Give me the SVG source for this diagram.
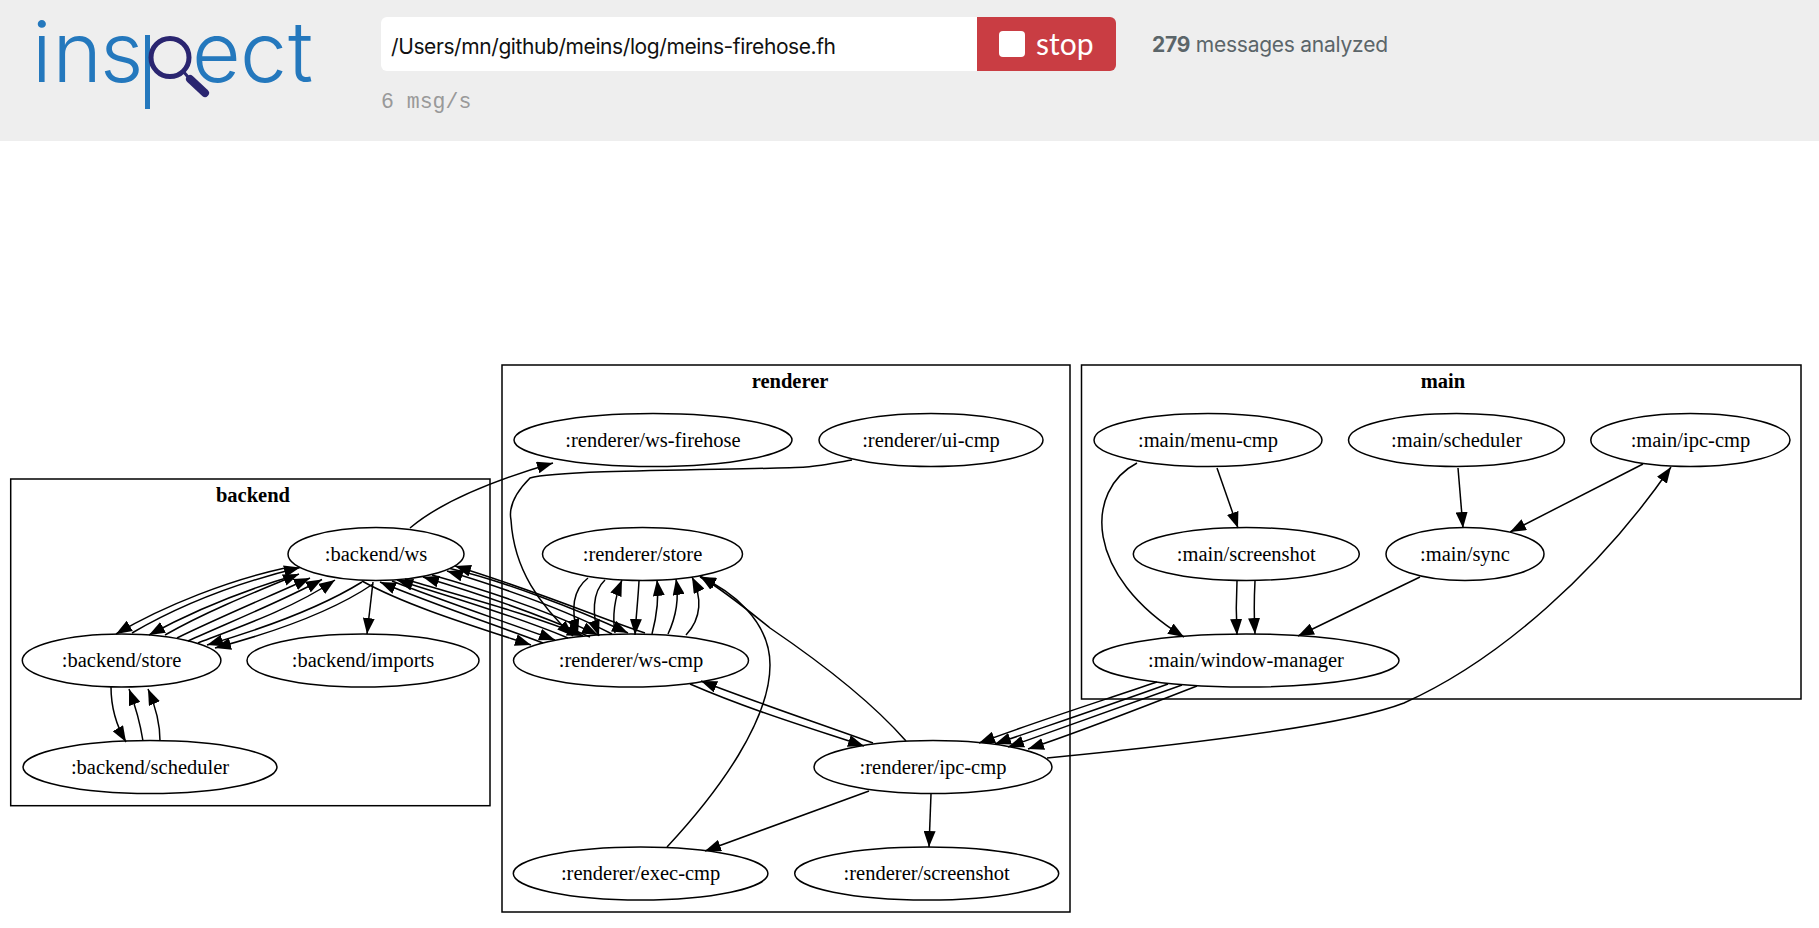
<svg xmlns="http://www.w3.org/2000/svg" width="1819" height="928" viewBox="0 0 1819 928">
<style>
.cl{fill:none;stroke:#000;stroke-width:1.5}
.n ellipse{fill:none;stroke:#000;stroke-width:1.5}
.n text{font:20.5px "Liberation Serif",serif;text-anchor:middle;fill:#000}
.cl-t{font:bold 20.5px "Liberation Serif",serif;text-anchor:middle;fill:#000}
#connectors path{fill:none;stroke:#000;stroke-width:1.5;marker-end:url(#a)}
.logo{font-family:Inter,sans-serif;font-weight:300;font-size:84px;fill:#2478bd}
.ui{font-family:Inter,"Noto Sans",sans-serif}
</style>
<defs><marker id="a" markerUnits="userSpaceOnUse" markerWidth="16" markerHeight="12" refX="16" refY="6" orient="auto"><path d="M0,0L16,6L0,12z" fill="#000"/></marker></defs>
<rect width="1819" height="928" fill="#fff"/>
<g id="header">
<rect width="1819" height="141" fill="#eee"/>
<g id="logo">
<text class="logo" x="32 52.500 100" y="82">ins</text>
<text class="logo" x="192 240 288" y="82">ect</text>
<rect x="145" y="35" width="5" height="74" fill="#2478bd"/>
<circle cx="170" cy="57.500" r="19" fill="none" stroke="#2a2570" stroke-width="5"/>
<path d="M183,71L188,77" stroke="#2a2570" stroke-width="3" fill="none"/>
<path d="M190,79L205,93" stroke="#2a2570" stroke-width="8" stroke-linecap="round" fill="none"/>
</g>
<path d="M387,17H977V71H387a6,6 0 0 1-6-6V23a6,6 0 0 1 6-6z" fill="#fff"/>
<text class="ui" x="391" y="54" font-size="21" fill="#111" textLength="445">/Users/mn/github/meins/log/meins-firehose.fh</text>
<path d="M977,17H1110a6,6 0 0 1 6,6V65a6,6 0 0 1-6,6H977z" fill="#c93d43"/>
<rect x="999" y="31" width="26" height="26" rx="4" fill="#fff"/>
<text x="1036" y="55" font-family="Lato,sans-serif" font-size="30" fill="#fff">stop</text>
<text class="ui" x="1152" y="52" font-size="21" fill="#5b6569" textLength="236"><tspan font-weight="700">279</tspan> messages analyzed</text>
<text x="381" y="108" font-family="'Liberation Mono',monospace" font-size="21.500" fill="#999">6 msg/s</text>
</g>
<g id="clusters">
<g id="cluster-backend"><rect class="cl" x="10.700" y="479" width="479.300" height="326.700"/><text class="cl-t" x="253" y="502">backend</text></g>
<g id="cluster-renderer"><rect class="cl" x="502" y="365" width="568" height="547"/><text class="cl-t" x="790" y="388">renderer</text></g>
<g id="cluster-main"><rect class="cl" x="1081.500" y="365" width="719.500" height="334"/><text class="cl-t" x="1443" y="388">main</text></g>
</g>
<g id="connectors">
<path d="M410,528C443,500 495,480 553,463"/>
<path d="M852,460C835,463 820,466 806,467C760,470 560,469 530,478C518,490 508,505 511,520C514,570 540,605 573,636"/>
<path d="M285,568C230,580 165,605 116,634"/>
<path d="M132,633C180,605 240,582 300,567.500"/>
<path d="M296,575C245,590 195,610 149,635"/>
<path d="M165,635C205,612 255,592 299,574"/>
<path d="M177,638C220,617 268,597 310,578"/>
<path d="M188,641C230,622 280,602 322,579.500"/>
<path d="M198,643C245,625 295,607 335,580"/>
<path d="M362,582C320,608 265,628 207,645"/>
<path d="M373,584C332,612 275,632 215,648"/>
<path d="M645,633C610,622 540,592 455,566"/>
<path d="M450,568.500C500,580 575,608 628,633"/>
<path d="M612,634C570,612 510,590 447,571"/>
<path d="M432,575C485,590 550,612 598,635"/>
<path d="M590,637C545,617 480,594 423,577"/>
<path d="M405,579C460,596 530,614 583,636"/>
<path d="M568,638C520,618 455,598 397,580"/>
<path d="M392,581C440,600 500,620 555,640"/>
<path d="M543,643C495,625 430,603 380,582"/>
<path d="M362,581C405,605 470,625 531,645"/>
<path d="M588,578C570,592 572,615 578,635"/>
<path d="M605,580C592,592 592,615 599,636"/>
<path d="M615,633C612,615 615,597 622,580"/>
<path d="M639,581C638,600 636,617 635,635"/>
<path d="M652,634C657,615 659,597 657,580"/>
<path d="M668,634C676,617 679,597 676,579"/>
<path d="M686,635C702,618 702,597 692,577"/>
<path d="M667,847C720,790 770,720 770,665C770,620 730,590 700,577"/>
<path d="M906,741C870,700 820,662 770,628C750,612 730,595 700,576"/>
<path d="M690,684C750,710 810,728 864,746"/>
<path d="M873,743C815,722 755,702 701,681"/>
<path d="M869,791L705,851"/>
<path d="M931,794L929,847"/>
<path d="M1157,682C1095,703 1035,722 979,743"/>
<path d="M1168,684C1110,705 1050,725 995,744"/>
<path d="M1182,685C1120,707 1065,727 1008,747"/>
<path d="M1197,686C1140,708 1085,730 1028,749"/>
<path d="M1047,758C1150,748 1340,728 1404,703C1500,660 1600,570 1671,467"/>
<path d="M1217,468L1238,528"/>
<path d="M1137,463C1085,490 1083,575 1184,637"/>
<path d="M1237,581C1236,600 1236,617 1237,635"/>
<path d="M1255,581C1254,600 1254,617 1255,634"/>
<path d="M1458,468L1463,528"/>
<path d="M1643,464L1510,532"/>
<path d="M1420,577L1298,636"/>
<path d="M111,687C111,705 116,725 126,742"/>
<path d="M143,741C140,722 135,705 129,689"/>
<path d="M160,741C160,722 155,705 148,689"/>
<path d="M373,582L367,634"/>
</g>
<g id="backend-ws" class="n"><ellipse cx="376" cy="554" rx="88" ry="26.500"/><text x="376" y="560.500">:backend/ws</text></g>
<g id="backend-store" class="n"><ellipse cx="121.600" cy="660.500" rx="99.300" ry="26.500"/><text x="121.600" y="667">:backend/store</text></g>
<g id="backend-imports" class="n"><ellipse cx="363" cy="660.500" rx="116" ry="26.500"/><text x="363" y="667">:backend/imports</text></g>
<g id="backend-scheduler" class="n"><ellipse cx="150" cy="767" rx="127" ry="26.500"/><text x="150" y="773.500">:backend/scheduler</text></g>
<g id="renderer-ws-firehose" class="n"><ellipse cx="653" cy="440" rx="139" ry="26.500"/><text x="653" y="446.500">:renderer/ws-firehose</text></g>
<g id="renderer-ui-cmp" class="n"><ellipse cx="931" cy="440" rx="112" ry="26.500"/><text x="931" y="446.500">:renderer/ui-cmp</text></g>
<g id="renderer-store" class="n"><ellipse cx="642.500" cy="554" rx="100" ry="26.500"/><text x="642.500" y="560.500">:renderer/store</text></g>
<g id="renderer-ws-cmp" class="n"><ellipse cx="631" cy="660.500" rx="117.500" ry="26.500"/><text x="631" y="667">:renderer/ws-cmp</text></g>
<g id="renderer-ipc-cmp" class="n"><ellipse cx="933" cy="767" rx="119" ry="26.500"/><text x="933" y="773.500">:renderer/ipc-cmp</text></g>
<g id="renderer-exec-cmp" class="n"><ellipse cx="640.600" cy="873.500" rx="127.300" ry="26.500"/><text x="640.600" y="880">:renderer/exec-cmp</text></g>
<g id="renderer-screenshot" class="n"><ellipse cx="926.700" cy="873.500" rx="132" ry="26.500"/><text x="926.700" y="880">:renderer/screenshot</text></g>
<g id="main-menu-cmp" class="n"><ellipse cx="1208" cy="440" rx="114" ry="26.500"/><text x="1208" y="446.500">:main/menu-cmp</text></g>
<g id="main-scheduler" class="n"><ellipse cx="1456.500" cy="440" rx="108" ry="26.500"/><text x="1456.500" y="446.500">:main/scheduler</text></g>
<g id="main-ipc-cmp" class="n"><ellipse cx="1690.400" cy="440" rx="99.600" ry="26.500"/><text x="1690.400" y="446.500">:main/ipc-cmp</text></g>
<g id="main-screenshot" class="n"><ellipse cx="1246.300" cy="554" rx="113" ry="26.500"/><text x="1246.300" y="560.500">:main/screenshot</text></g>
<g id="main-sync" class="n"><ellipse cx="1465" cy="554" rx="79" ry="26.500"/><text x="1465" y="560.500">:main/sync</text></g>
<g id="main-window-manager" class="n"><ellipse cx="1246" cy="660.500" rx="153" ry="26.500"/><text x="1246" y="667">:main/window-manager</text></g>
</svg>
